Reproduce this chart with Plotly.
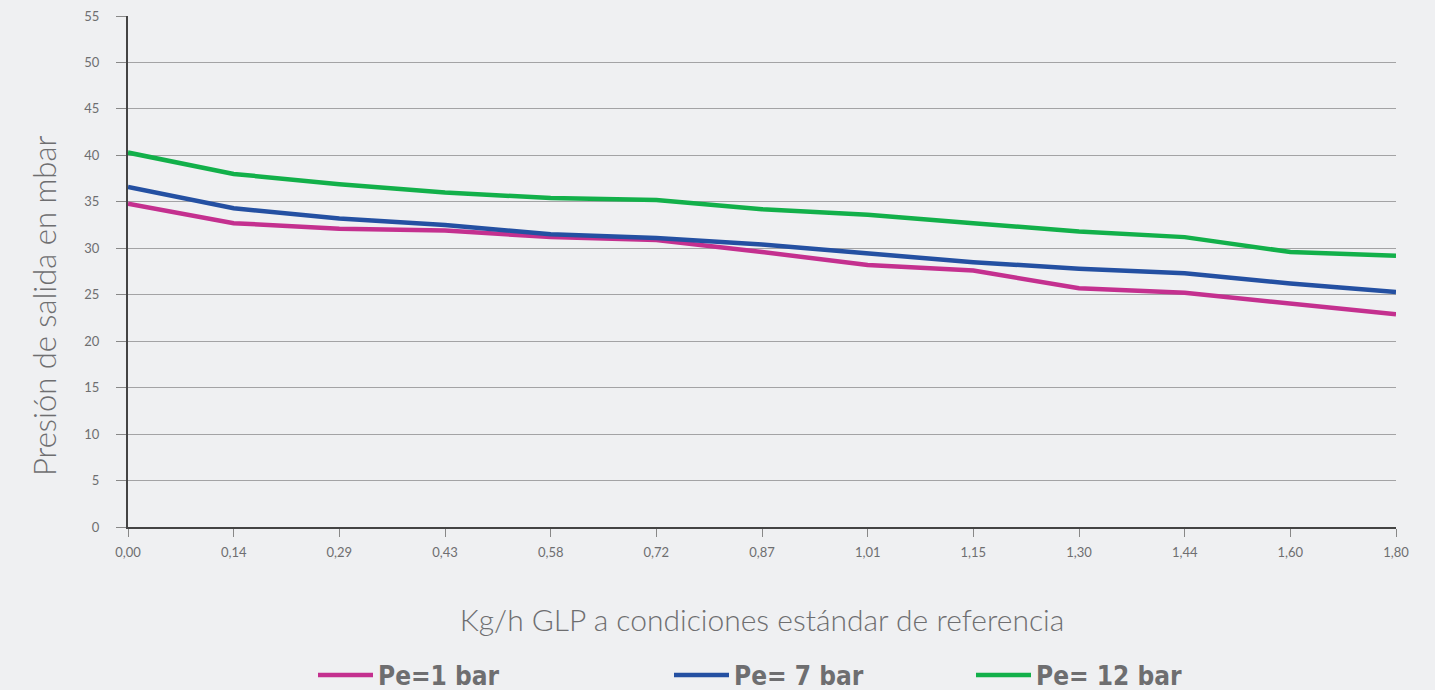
import plotly.graph_objects as go

categories = ["0,00", "0,14", "0,29", "0,43", "0,58", "0,72", "0,87",
              "1,01", "1,15", "1,30", "1,44", "1,60", "1,80"]
pe1 = [34.8, 32.7, 32.1, 31.9, 31.2, 30.9, 29.6, 28.2, 27.6, 25.7, 25.2, 24.1, 22.9]
pe7 = [36.6, 34.3, 33.2, 32.5, 31.5, 31.1, 30.4, 29.5, 28.5, 27.8, 27.3, 26.2, 25.3]
pe12 = [40.3, 38.0, 36.9, 36.0, 35.4, 35.2, 34.2, 33.6, 32.7, 31.8, 31.2, 29.6, 29.2]
y_ticks = list(range(0, 56, 5))

names = ["Pe=1 bar", "Pe= 7 bar", "Pe= 12 bar"]
colors = ["#C4308F", "#2450A2", "#12B04A"]
series = [pe1, pe7, pe12]
legend_ids = ["legend", "legend2", "legend3"]

BG = "#EFF0F2"
TXT = "#6E6E70"
PW = 1268  # plot width in px
PH = 511   # plot height in px

fig = go.Figure()
for name, col, vals, lg in zip(names, colors, series, legend_ids):
    fig.add_trace(go.Scatter(
        x=categories, y=vals, mode="lines", name=name, showlegend=True,
        line=dict(color=col, width=4.5), legend=lg,
    ))

legend_font = dict(family="DejaVu Sans Condensed, Liberation Sans Narrow, Arial",
                   size=26, color=TXT, weight="bold")
common_leg = dict(orientation="h", yanchor="middle", y=-0.29, xanchor="left",
                  bgcolor="rgba(0,0,0,0)", font=legend_font, itemwidth=55)

fig.update_layout(
    width=1435, height=690, showlegend=True,
    paper_bgcolor=BG, plot_bgcolor=BG,
    margin=dict(l=128, r=39, t=16, b=163, autoexpand=False),
    font=dict(family="Lato, Open Sans, sans-serif", color=TXT),
    legend=dict(**common_leg, x=(313 - 128) / PW),
    legend2=dict(**common_leg, x=(669 - 128) / PW),
    legend3=dict(**common_leg, x=(971 - 128) / PW),
    xaxis=dict(
        type="category", range=[0, 12],
        showgrid=False, showline=True, linecolor="#444444", linewidth=2,
        ticks="outside", ticklen=8, tickcolor="#888888", tickwidth=1,
        ticklabelstandoff=4,
        tickfont=dict(size=13, color=TXT),
        title=dict(text="Kg/h GLP a condiciones estándar de referencia",
                   font=dict(size=30, color=TXT, weight=300), standoff=51),
        zeroline=False,
    ),
    yaxis=dict(
        range=[0, 55], tickvals=y_ticks,
        showgrid=True, gridcolor="#A3A3A5", gridwidth=1,
        showline=True, linecolor="#444444", linewidth=2,
        ticks="outside", ticklen=10, tickcolor="#888888", tickwidth=1,
        ticklabelstandoff=14,
        tickfont=dict(size=13, color=TXT),
        zeroline=False,
    ),
    annotations=[dict(
        text="Presión de salida en mbar", textangle=-90, showarrow=False,
        xref="paper", yref="paper", x=(44 - 128) / PW, y=(527 - 306) / PH,
        xanchor="center", yanchor="middle",
        font=dict(size=31, color=TXT, weight=300),
    )],
)

fig.write_html("out.html", config={"displayModeBar": False},
               post_script="document.body.style.margin='0';document.body.style.background='" + BG + "';")
